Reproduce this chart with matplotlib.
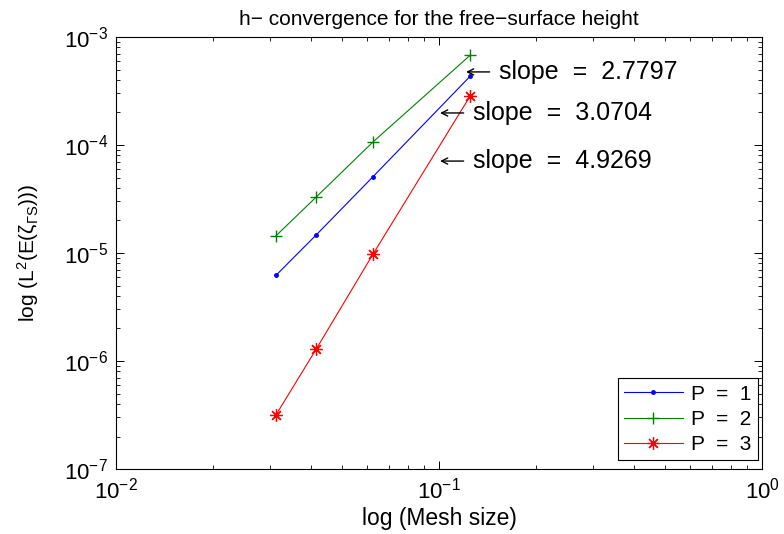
import matplotlib
matplotlib.use('Agg')
import matplotlib.pyplot as plt
import numpy as np

plt.rcParams['font.family'] = ['Liberation Sans', 'DejaVu Sans']
plt.rcParams['mathtext.fontset'] = 'custom'
plt.rcParams['mathtext.rm'] = 'Liberation Sans'
plt.rcParams['mathtext.it'] = 'Liberation Sans:italic'
plt.rcParams['mathtext.default'] = 'regular'

# mesh sizes and errors
h = [1/32, 1/24, 1/16, 1/8]
err_p1 = [6.2e-6, 1.47e-5, 5.1e-5, 4.35e-4]
err_p2 = [1.44e-5, 3.3e-5, 1.07e-4, 6.8e-4]
err_p3 = [3.16e-7, 1.29e-6, 9.8e-6, 2.86e-4]
slopes = ['2.7797', '3.0704', '4.9269']
# where each slope arrow points (mesh size, error)
slope_tips = [(0.1212, 4.75e-4), (0.1007, 1.98e-4), (0.1007, 7.1e-5)]

fig = plt.figure(figsize=(7.84, 5.34), dpi=100)
ax = fig.add_axes([0.148, 0.1217, 0.824, 0.809])

ax.loglog(h, err_p1, color='b', lw=0.8, marker='.', ms=5, label='P  =  1')
ax.loglog(h, err_p2, color=(0, 0.5, 0), lw=0.8, marker='+', ms=9, mew=1, label='P  =  2')
ax.loglog(h, err_p3, color='r', lw=0.8, marker=(8, 2, 0), ms=9, mew=0.9, label='P  =  3')

ax.set_xlim(1e-2, 1)
ax.set_ylim(1e-7, 1e-3)

# slope labels with left arrows
for tip, s in zip(slope_tips, slopes):
    ax.annotate('slope  =  ' + s, xy=tip, xytext=(24, 0), textcoords='offset points',
                fontsize=18, va='center', ha='left',
                arrowprops=dict(arrowstyle='->', color='k', lw=1.0,
                                shrinkA=5, shrinkB=0, mutation_scale=11))

ax.tick_params(which='both', direction='in', top=True, right=True, labelsize=16, pad=6)
ax.tick_params(which='major', length=6, width=0.7)
ax.tick_params(which='minor', length=3, width=0.6)
for sp in ax.spines.values():
    sp.set_linewidth(0.8)

ax.set_title('h\u2212 convergence for the free\u2212surface height', fontsize=15, pad=9)
ax.set_xlabel('log (Mesh size)', fontsize=16.5, labelpad=3)
ax.set_ylabel(r'log (L$^2$(E($\zeta_{\Gamma S}$)))', fontsize=15, labelpad=16)

leg = ax.legend(loc='lower right', bbox_to_anchor=(0.993, 0.02), fontsize=15,
                fancybox=False, edgecolor='k', framealpha=1, handlelength=2.8,
                borderaxespad=0, labelspacing=0.3, borderpad=0.3, handletextpad=0.4)
leg.get_frame().set_linewidth(0.8)

fig.savefig('out.png', dpi=100)
